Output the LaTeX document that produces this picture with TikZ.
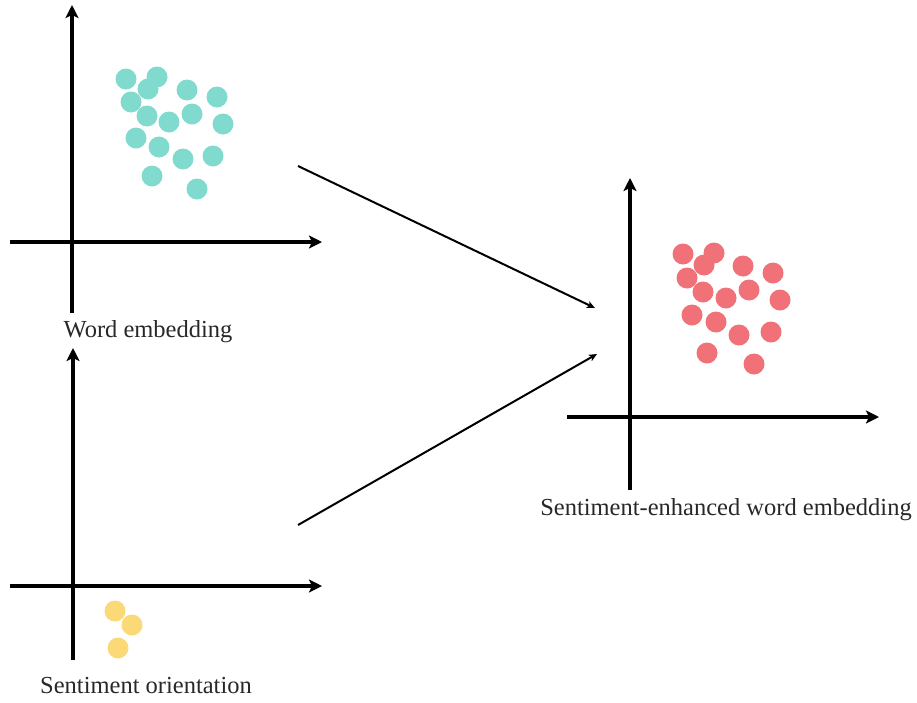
\documentclass[tikz,border=0pt]{standalone}
\usepackage{fontspec}
\setmainfont{Liberation Serif}
\usepackage{xcolor}
\usepackage{tikz}
\usetikzlibrary{arrows.meta,positioning}
\definecolor{dotteal}{RGB}{128,218,205}
\definecolor{dotred}{RGB}{240,114,120}
\definecolor{dotyellow}{RGB}{250,217,118}
\definecolor{inkgray}{RGB}{40,40,40}

\begin{document}
\begin{tikzpicture}[
  x=1pt, y=-1pt,
  font=\fontsize{24.5}{28}\selectfont,
  axis/.style={-{Stealth[length=13pt,width=13pt,inset=3pt]}, line width=3.2pt, draw=black},
  flow/.style={-{Stealth[length=8pt,width=7pt,inset=2pt]}, line width=2pt, draw=black},
  plotlabel/.style={anchor=base, text=inkgray, inner sep=0pt},
  tealdot/.style={fill=dotteal},
  reddot/.style={fill=dotred},
  yellowdot/.style={fill=dotyellow}]

  \useasboundingbox (0,0) rectangle (917,702);

  % ---------- word embedding ----------
  \coordinate (woy0) at (72,313);
  \coordinate (woy1) at (72,5);
  \coordinate (wox0) at (10,242);
  \coordinate (wox1) at (322,242);
  \draw[axis] (woy0) -- (woy1);
  \draw[axis] (wox0) -- (wox1);
  \foreach \px/\py in {126/79,157/77,148/89,131/102,187/90,217/97,147/116,169/122,
                       192/114,223/124,136/138,159/147,183/159,213/156,152/176,197/189}
    \fill[tealdot] (\px,\py) circle[radius=10.5pt];
  \node[plotlabel] (lblword) at (148,337) {Word embedding};

  % ---------- sentiment orientation ----------
  \coordinate (soy0) at (73,660);
  \coordinate (soy1) at (73,348);
  \coordinate (sox0) at (10,586);
  \coordinate (sox1) at (322,586);
  \draw[axis] (soy0) -- (soy1);
  \draw[axis] (sox0) -- (sox1);
  \foreach \px/\py in {115/611,132/625,118/648}
    \fill[yellowdot] (\px,\py) circle[radius=10.5pt];
  \node[plotlabel] (lblsent) at (146,693) {Sentiment orientation};

  % ---------- sentiment-enhanced word embedding ----------
  \coordinate (eny0) at (630,490);
  \coordinate (eny1) at (630,178);
  \coordinate (enx0) at (567,417);
  \coordinate (enx1) at (879,417);
  \draw[axis] (eny0) -- (eny1);
  \draw[axis] (enx0) -- (enx1);
  \foreach \px/\py in {683/254,714/253,704/265,687/278,743/266,773/273,703/292,726/298,
                       749/290,780/300,692/315,716/322,739/335,771/332,707/353,754/364}
    \fill[reddot] (\px,\py) circle[radius=10.5pt];
  \node[plotlabel] (lblenh) at (726,515) {Sentiment-enhanced word embedding};

  % ---------- merge arrows ----------
  \coordinate (wordout) at (298,166);
  \coordinate (sentout) at (298,525);
  \coordinate (enhinA)  at (595,308);
  \coordinate (enhinB)  at (597,354);
  \draw[flow] (wordout) -- (enhinA);
  \draw[flow] (sentout) -- (enhinB);

\end{tikzpicture}
\end{document}
